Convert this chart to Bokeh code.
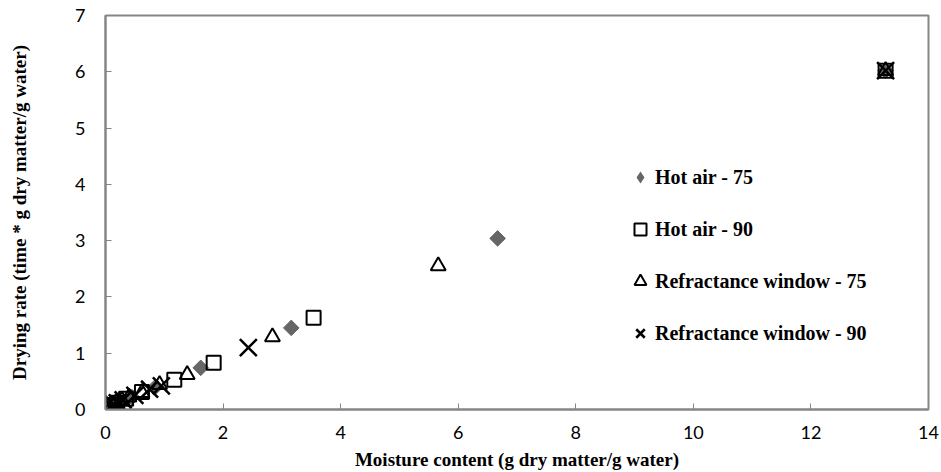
import math
from bokeh.plotting import figure
from bokeh.models import Legend, LegendItem, Range1d, FixedTicker
from bokeh.embed import file_html
from bokeh.resources import INLINE

# Drying rate vs moisture content for four drying treatments
hot75_x = [13.27, 6.67, 3.16, 1.62, 0.85, 0.45, 0.25, 0.14, 0.09]
hot75_y = [6.02, 3.04, 1.45, 0.74, 0.40, 0.22, 0.13, 0.08, 0.05]

hot90_x = [13.27, 3.54, 1.84, 1.17, 0.62, 0.35, 0.20, 0.12, 0.08]
hot90_y = [6.02, 1.63, 0.83, 0.53, 0.31, 0.19, 0.12, 0.08, 0.05]

rw75_x = [13.27, 5.66, 2.84, 1.39, 0.92, 0.62, 0.40, 0.28, 0.18, 0.12]
rw75_y = [6.02, 2.55, 1.29, 0.62, 0.44, 0.30, 0.22, 0.16, 0.12, 0.08]

rw90_x = [13.27, 2.43, 0.95, 0.75, 0.50, 0.30, 0.20, 0.14, 0.10]
rw90_y = [6.02, 1.10, 0.42, 0.36, 0.25, 0.17, 0.12, 0.09, 0.06]

x_ticks = [0, 2, 4, 6, 8, 10, 12, 14]
y_ticks = [0, 1, 2, 3, 4, 5, 6, 7]

labels = ["Hot air - 75", "Hot air - 90",
          "Refractance window - 75", "Refractance window - 90"]

SERIF = "Liberation Serif"

p = figure(width=941, height=472, output_backend="svg", toolbar_location=None,
           x_range=Range1d(0, 14), y_range=Range1d(0, 7),
           min_border_left=105, min_border_right=13,
           min_border_top=15, min_border_bottom=62)

p.grid.visible = False
p.background_fill_color = "white"
p.border_fill_color = "white"
p.outline_line_color = "#868686"
p.outline_line_width = 2

for ax in (p.xaxis[0], p.yaxis[0]):
    ax.axis_line_color = "#868686"
    ax.axis_line_width = 2
    ax.major_tick_line_color = "#868686"
    ax.major_tick_line_width = 1
    ax.major_tick_in = 6
    ax.major_tick_out = 0
    ax.minor_tick_line_color = None
    ax.major_label_text_font = "Lato"
    ax.major_label_text_font_size = "18px"
    ax.major_label_text_color = "black"
    ax.axis_label_text_font = SERIF
    ax.axis_label_text_font_style = "bold"
    ax.axis_label_text_font_size = "19px"
    ax.axis_label_text_color = "black"

p.xaxis.ticker = FixedTicker(ticks=x_ticks)
p.yaxis.ticker = FixedTicker(ticks=y_ticks)
p.xaxis.major_label_standoff = 16
p.yaxis.major_label_standoff = 20
p.xaxis.axis_label = "Moisture content (g dry matter/g water)"
p.yaxis.axis_label = "Drying rate (time * g dry matter/g water)"
p.xaxis.axis_label_standoff = 7
p.yaxis.axis_label_standoff = 42

r1 = p.scatter(hot75_x, hot75_y, marker="square", size=11, angle=math.pi / 4,
               fill_color="#666666", line_color="#666666", line_width=1)
r2 = p.scatter(hot90_x, hot90_y, marker="square", size=14,
               fill_color="white", fill_alpha=0.0, line_color="black", line_width=2)
r3 = p.scatter(rw75_x, rw75_y, marker="triangle", size=15,
               fill_color="white", fill_alpha=0.0, line_color="black", line_width=2)
r4 = p.scatter(rw90_x, rw90_y, marker="x", size=24,
               line_color="black", line_width=2.5)

# legend key for the diamond series: same data, zero size, so only the key shows
key1 = p.scatter(hot75_x, hot75_y, marker="diamond", size=0,
                 fill_color="#666666", line_alpha=0)

legend = Legend(
    items=[LegendItem(label=lab, renderers=[r])
           for lab, r in zip(labels, [key1, r2, r3, r4])],
    location=(520, 61),
    orientation="vertical",
    glyph_width=30, glyph_height=30,
    spacing=22, padding=0, margin=0,
    label_standoff=0,
    label_text_font=SERIF,
    label_text_font_style="bold",
    label_text_font_size="20px",
    label_text_color="black",
    border_line_alpha=0,
    background_fill_alpha=0,
)
p.add_layout(legend)

open("out.html", "w").write(file_html(p, INLINE))
